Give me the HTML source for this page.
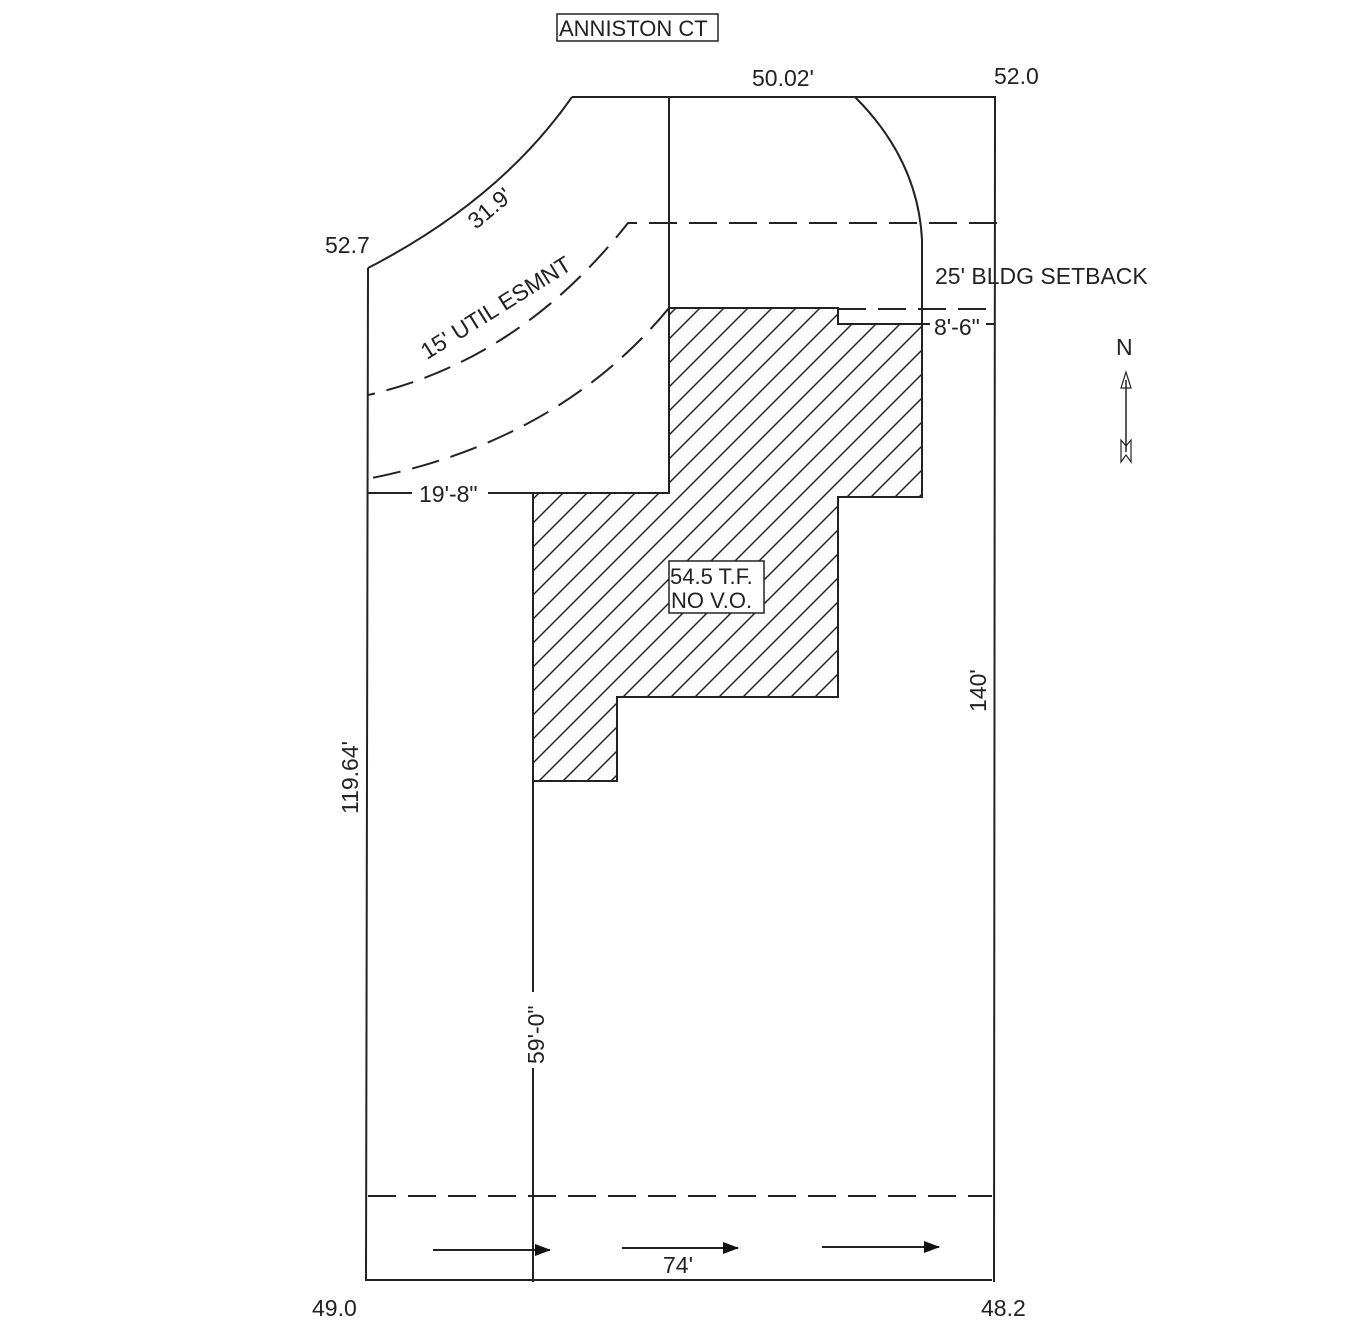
<!DOCTYPE html>
<html><head><meta charset="utf-8"><style>
html,body{margin:0;padding:0;background:#fff;width:1360px;height:1338px;overflow:hidden}
svg{display:block}
text{font-family:"Liberation Sans",Arial,sans-serif;fill:#222;font-size:23px}
</style></head><body>
<svg width="1360" height="1338" viewBox="0 0 1360 1338" xmlns="http://www.w3.org/2000/svg">
<defs>
<pattern id="h" patternUnits="userSpaceOnUse" width="24" height="24">
<path d="M-6,30 L30,-6 M-18,18 L18,-18 M6,42 L42,6" stroke="#222" stroke-width="1.5"/>
</pattern>
<marker id="a" markerWidth="16" markerHeight="12" refX="15" refY="6" orient="auto" markerUnits="userSpaceOnUse">
<path d="M0,0 L16,6 L0,12 Z" fill="#111"/>
</marker>
</defs>
<g stroke="#222" stroke-width="2" fill="none">
<path d="M669,308 L838,308 L838,324 L922,324 L922,497 L838,497 L838,697 L617,697 L617,781 L533,781 L533,493 L669,493 Z" fill="url(#h)"/>
<path d="M572,97 L995,97 L994,1282 M992,1280 L366,1280 L368,268"/>
<path d="M368,268 Q500,200 572,97"/>
<line x1="669" y1="97" x2="669" y2="493"/>
<path d="M855,97 Q918,160 922,240 L922,324"/>
<g stroke-dasharray="28,12">
<path d="M997,223 L628,223 Q520,360 368,395"/>
<path d="M669,308 Q560,440 372,478"/>
<line x1="838" y1="309" x2="997" y2="309"/>
<line x1="368" y1="1196" x2="992" y2="1196"/>
</g>
<line x1="368" y1="493" x2="412" y2="493"/>
<line x1="488" y1="493" x2="533" y2="493"/>
<line x1="922" y1="324" x2="930" y2="324"/>
<line x1="986" y1="324" x2="995" y2="324"/>
<line x1="533" y1="781" x2="533" y2="992"/>
<line x1="533" y1="1068" x2="533" y2="1282"/>
<line x1="433" y1="1250" x2="550" y2="1250" marker-end="url(#a)"/>
<line x1="622" y1="1248" x2="738" y2="1248" marker-end="url(#a)"/>
<line x1="822" y1="1247" x2="939" y2="1247" marker-end="url(#a)"/>
<line x1="1126" y1="380" x2="1126" y2="452" stroke-width="1.5"/>
<path d="M1126,372 L1121,388 L1131,388 Z" stroke-width="1.2"/>
<path d="M1121,440 L1121,462 L1126,455 L1131,462 L1131,440 L1126,446 Z" stroke-width="1.2"/>
<rect x="557" y="14" width="161" height="27" stroke-width="1.5"/>
<rect x="669" y="561" width="95" height="52" stroke-width="1.5" fill="#fff"/>
</g>
<text x="559" y="36" style="font-size:22px">ANNISTON CT</text>
<text x="752" y="86">50.02'</text>
<text x="994" y="84">52.0</text>
<text x="325" y="253">52.7</text>
<text x="935" y="284">25' BLDG SETBACK</text>
<text x="934" y="335">8'-6"</text>
<text x="419" y="502">19'-8"</text>
<text x="1116" y="355">N</text>
<text x="670" y="584" style="font-size:22px">54.5 T.F.</text>
<text x="671" y="608" style="font-size:22px">NO V.O.</text>
<text x="663" y="1273">74'</text>
<text x="312" y="1316">49.0</text>
<text x="981" y="1316">48.2</text>
<text transform="translate(476,230) rotate(-40)">31.9'</text>
<text transform="translate(427,360) rotate(-32)">15' UTIL ESMNT</text>
<text transform="translate(986,712) rotate(-90)">140'</text>
<text transform="translate(358,814) rotate(-90)">119.64'</text>
<text transform="translate(544,1064) rotate(-90)">59'-0"</text>
</svg>
</body></html>
